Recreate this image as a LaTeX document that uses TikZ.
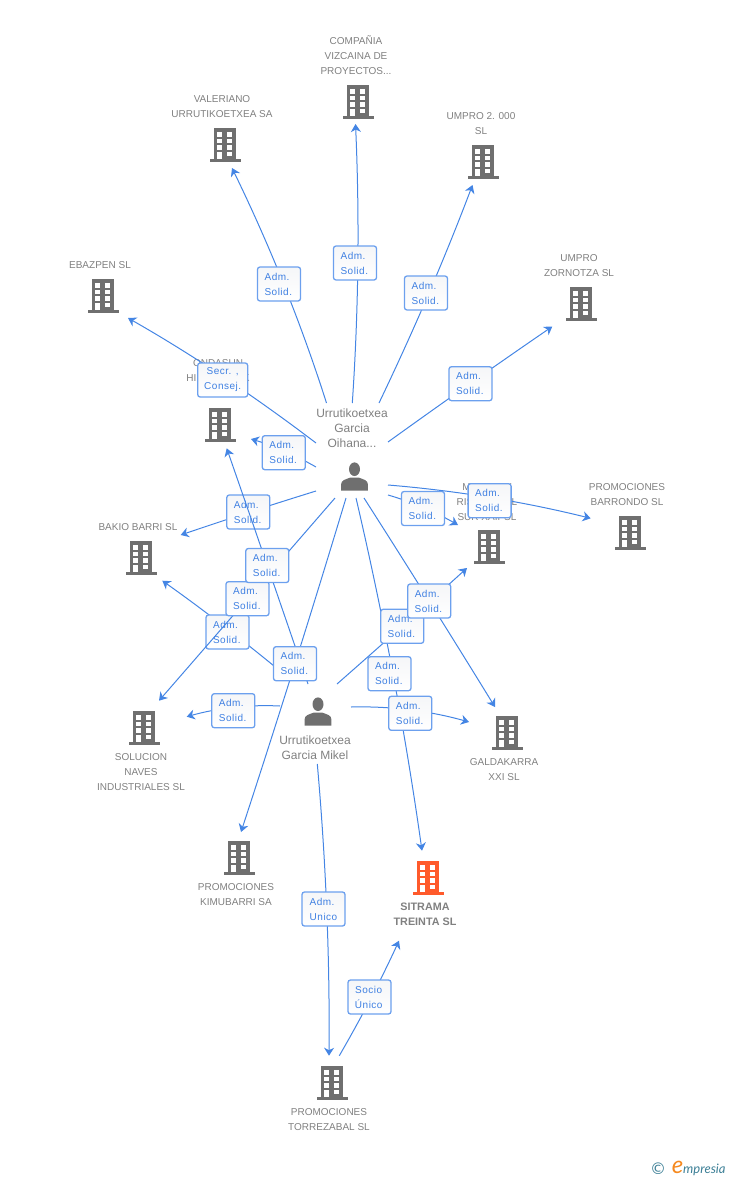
\documentclass[tikz,border=0pt]{standalone}
\usepackage{fontspec}
\setmainfont{Liberation Sans}
\newfontfamily\lblfont[LetterSpace=5]{Liberation Sans}
\newfontfamily\logofont{Lato}
\newfontfamily\cfont{DejaVu Sans}
\usetikzlibrary{calc,arrows.meta}
\definecolor{edgeblue}{HTML}{4485E4}
\definecolor{boxblue}{HTML}{6CA0EE}
\definecolor{lbltext}{HTML}{3F80E2}
\definecolor{icongray}{HTML}{6F6F6F}
\definecolor{textgray}{HTML}{808080}
\definecolor{hot}{HTML}{FF5A2B}
\definecolor{teal}{HTML}{3C7F96}
\definecolor{orng}{HTML}{F5891F}
\definecolor{boxtop}{HTML}{F5F6F8}
\tikzset{
  x=1pt,y=-1pt,
  edge/.style={draw=edgeblue,line width=1pt,-{Stealth[length=8pt,width=10pt,inset=2.5pt]}},
  rel/.style={draw=boxblue,line width=1.3pt,top color=boxtop,bottom color=white,rounded corners=2.5pt,minimum width=43pt,minimum height=34pt,inner sep=0pt,text=lbltext,align=center,font=\lblfont\fontsize{10}{15}\selectfont},
  comp/.style={text=textgray,align=center,inner sep=0pt,font=\fontsize{10}{15}\selectfont},
  compbold/.style={comp,font=\bfseries\fontsize{10.8}{15}\selectfont},
  pers/.style={text=textgray,align=center,inner sep=0pt,font=\fontsize{12}{15}\selectfont},
  pics/building/.style={code={
    \fill[#1] (-11.3,-17) rectangle (11.3,14.3);
    \fill[#1] (-15.5,14.3) rectangle (15.5,16.7);
    \foreach \yy in {-13,-6.4,0.2}{
      \fill[white] (-7.7,\yy) rectangle (-2.9,\yy+4.6);
      \fill[white] (2.4,\yy) rectangle (7.2,\yy+4.6);}
    \fill[white] (-7.7,6.8) rectangle (-2.9,14.3);
    \fill[white] (2.4,6.8) rectangle (7.2,11.4);
  }},
  pics/person/.style={code={
    \fill[icongray] (0,-7.8) ellipse (5.5 and 6.8);
    \fill[icongray] (-13.4,13.5) -- (-13.4,7.5) .. controls (-13.4,3) and (-9,2.5) .. (-4,0.5) -- (4,0.5) .. controls (9,2.5) and (13.4,3) .. (13.4,7.5) -- (13.4,13.5) -- cycle;
  }}
}
\newcommand{\conn}[3]{\draw[edge] (#1) .. controls ($1.3333*(#2)-0.3333*(#3)$) and ($1.3333*(#2)-0.3333*(#1)$) .. (#3);}
\newcommand{\admtxt}{Adm.\kern4pt\\Solid.\kern1.4pt}
\begin{document}
\begin{tikzpicture}
\useasboundingbox (0,0) rectangle (728,1180);
% buildings
\pic (bCompania) at (358,102) {building=icongray};
\pic (bValeriano) at (225,145) {building=icongray};
\pic (bUmpro) at (483,162) {building=icongray};
\pic (bZornotza) at (581,304) {building=icongray};
\pic (bEbazpen) at (103,296) {building=icongray};
\pic (bOndasun) at (220,425) {building=icongray};
\pic (bMollez) at (489,547) {building=icongray};
\pic (bBarrondo) at (630,533) {building=icongray};
\pic (bBakio) at (141,558) {building=icongray};
\pic (bSolucion) at (144,728) {building=icongray};
\pic (bGaldakarra) at (507,733) {building=icongray};
\pic (bKimubarri) at (239,858) {building=icongray};
\pic (bSitrama) at (428,878) {building=hot};
\pic (bTorrezabal) at (332,1083) {building=icongray};
% people
\pic (pOihana) at (354.5,477) {person};
\pic (pMikel) at (318,712) {person};
% texts
\node[comp] (tCompania) at (356,55.5) {COMPAÑIA\\VIZCAINA DE\\PROYECTOS...};
\node[comp] (tValeriano) at (222,106.5) {VALERIANO\\URRUTIKOETXEA SA};
\node[comp] (tUmpro) at (481,123.5) {UMPRO 2. 000\\SL};
\node[comp] (tZornotza) at (579,265.5) {UMPRO\\ZORNOTZA SL};
\node[comp] (tEbazpen) at (100,265) {EBAZPEN SL};
\node[comp] (tOndasun) at (218,378) {ONDASUN\\HIRUKOITZ K\\SL};
\node[comp] (tMollez) at (487,502) {MOLLEZ Y\\RISUEÑO SL\\SUR XAIPSL};
\node[comp] (tBarrondo) at (627,494.5) {PROMOCIONES\\BARRONDO SL};
\node[comp] (tBakio) at (138,527) {BAKIO BARRI SL};
\node[comp] (tSolucion) at (141,772) {SOLUCION\\NAVES\\INDUSTRIALES SL};
\node[comp] (tGaldakarra) at (504,769.5) {GALDAKARRA\\XXI  SL};
\node[comp] (tKimubarri) at (236,894.5) {PROMOCIONES\\KIMUBARRI SA};
\node[compbold] (tSitrama) at (425,914.5) {SITRAMA\\TREINTA SL};
\node[comp] (tTorrezabal) at (329,1119.5) {PROMOCIONES\\TORREZABAL SL};
\node[pers] (tOihana) at (352,428) {Urrutikoetxea\\Garcia\\Oihana...};
\node[pers] (tMikel) at (315,747.5) {Urrutikoetxea\\Garcia Mikel};
% free ends of the connectors
\coordinate (oN1) at (352.3,403); \coordinate (oN2) at (326.5,403); \coordinate (oN3) at (379,403);
\coordinate (oE1) at (388,442); \coordinate (oE2) at (388,495); \coordinate (oE3) at (388,485);
\coordinate (oW1) at (316,443); \coordinate (oW2) at (316,467); \coordinate (oW3) at (316,491);
\coordinate (oS1) at (335,498); \coordinate (oS2) at (346,498); \coordinate (oS3) at (356,498); \coordinate (oS4) at (364,498);
\coordinate (mN1) at (308,684); \coordinate (mN2) at (337,684); \coordinate (mW1) at (280,706); \coordinate (mW2) at (285,675);
\coordinate (mE1) at (351,707); \coordinate (mS1) at (317.3,764);
\coordinate (aCompania) at (355.5,124); \coordinate (aValeriano) at (232,168); \coordinate (aUmpro) at (472.5,185);
\coordinate (aZornotza) at (552.3,326.5); \coordinate (aEbazpen) at (128,318); \coordinate (aOndasunA) at (251,439);
\coordinate (aOndasunB) at (226.7,448.3); \coordinate (aBakioA) at (180.7,535); \coordinate (aBakioB) at (162.3,580.7);
\coordinate (aSolucionA) at (159,700.7); \coordinate (aSolucionB) at (186.7,716.7); \coordinate (aMollezA) at (458,525);
\coordinate (aMollezB) at (467,568); \coordinate (aBarrondo) at (590.7,518.3); \coordinate (aGaldaA) at (495,707);
\coordinate (aGaldaB) at (469,722); \coordinate (aKimu) at (241,832); \coordinate (aSitramaA) at (422,850.7);
\coordinate (aSitramaB) at (399,940.7); \coordinate (aTorre) at (329,1055.7); \coordinate (sTorre) at (339.3,1055.7);
% connectors and their labels
\conn{oN1}{357.8,264}{aCompania} \node[rel] (l1) at (355,263) {\admtxt};
\conn{oN2}{284,285}{aValeriano} \node[rel] (l2) at (279,284) {\admtxt};
\conn{oN3}{428.5,294}{aUmpro} \node[rel] (l3) at (426,293) {\admtxt};
\conn{oE1}{470.5,383.3}{aZornotza} \node[rel] (l4) at (470.5,383.7) {\admtxt};
\conn{oW1}{222,376}{aEbazpen} \node[rel,minimum width=50pt] (l5) at (222.7,380) {Secr. ,\\Consej.};
\conn{oW2}{284,451}{aOndasunA} \node[rel] (l6) at (283.8,452.7) {\admtxt};
\conn{oW3}{248.3,512.5}{aBakioA} \node[rel] (l7) at (248.3,512) {\admtxt};
\conn{mW2}{223.6,626}{aBakioB} \node[rel] (l8) at (227.5,632) {\admtxt};
\conn{oS1}{246.5,600}{aSolucionA} \node[rel] (l9) at (247.5,598.7) {\admtxt};
\conn{mN1}{267.3,565.5}{aOndasunB} \node[rel] (l10) at (267.3,565.5) {\admtxt};
\conn{oS2}{295,663.7}{aKimu} \node[rel] (l11) at (295,663.7) {\admtxt};
\conn{mW1}{233.3,707.5}{aSolucionB} \node[rel] (l12) at (233.3,710.7) {\admtxt};
\conn{oE2}{423,507.5}{aMollezA} \node[rel] (l13) at (423,508.5) {\admtxt};
\conn{oE3}{489.5,497.5}{aBarrondo} \node[rel] (l14) at (489.6,500.7) {\admtxt};
\conn{oS3}{393,674}{aSitramaA} \node[rel] (l15) at (389.5,673.7) {\admtxt};
\conn{mN2}{402.2,626.3}{aMollezB} \node[rel] (l16) at (402.2,626.3) {\admtxt};
\conn{oS4}{429.2,601}{aGaldaA} \node[rel] (l17) at (429.2,601) {\admtxt};
\conn{mE1}{410.3,710}{aGaldaB} \node[rel] (l18) at (410.3,713.3) {\admtxt};
\conn{mS1}{326.7,910}{aTorre} \node[rel] (l19) at (323.5,909) {Adm.\kern3pt\\Unico};
\conn{sTorre}{371,998}{aSitramaB} \node[rel] (l20) at (369.5,997) {Socio\kern1.5pt\\Único\kern1.5pt};
% logo
\node[text=teal,inner sep=0pt,font=\cfont\fontsize{16}{16}\selectfont] (logoC) at (658,1169) {©};
\node[text=orng,inner sep=0pt,font=\logofont\itshape\fontsize{24}{24}\selectfont] (logoE) at (677.5,1167.5) {e};
\node[text=teal,inner sep=0pt,anchor=west,font=\logofont\itshape\fontsize{13}{13}\selectfont] (logoT) at (683,1170) {mpresia};
\end{tikzpicture}
\end{document}
